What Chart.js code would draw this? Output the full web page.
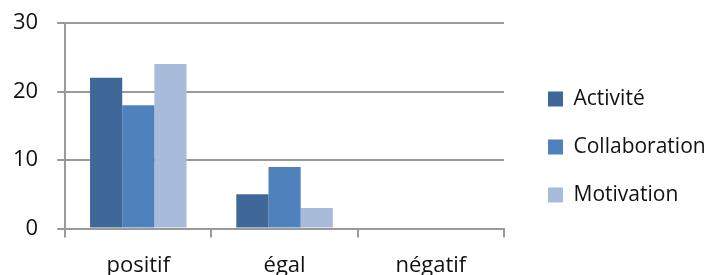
<!DOCTYPE html>
<html>
<head>
<meta charset="utf-8">
<script src="https://cdn.jsdelivr.net/npm/chart.js@4"></script>
<style>
    body { margin: 0; background: #fff; }
    #chart-box { width: 713px; height: 275px; position: relative; }
</style>
</head>
<body>
<div id="chart-box"><canvas id="myChart"></canvas></div>
<script>
const categories = ['positif', 'égal', 'négatif'];
const seriesNames = ['Activité', 'Collaboration', 'Motivation'];
const activite = [22, 5, 0];
const collaboration = [18, 9, 0];
const motivation = [24, 3, 0];
const yTicks = [0, 10, 20, 30];

const gridGray = '#9a9a9a';
const textColor = '#111111';

Chart.defaults.font.family = "'Open Sans', sans-serif";
Chart.defaults.font.size = 22;
Chart.defaults.color = textColor;

// move the legend a bit away from the plot (Excel leaves a wider gap)
const legendGap = {
    id: 'legendGap',
    afterLayout(chart) {
        chart.legend.left += 17;
        chart.legend.right = chart.width;
    }
};

let ctx = document.getElementById('myChart');

let myChart = new Chart(ctx, {
    type: 'bar',
    data: {
        labels: categories,
        datasets: [
            { label: seriesNames[0], data: activite, backgroundColor: '#3f6899' },
            { label: seriesNames[1], data: collaboration, backgroundColor: '#4f81bd' },
            { label: seriesNames[2], data: motivation, backgroundColor: '#a9bbdb' }
        ]
    },
    options: {
        responsive: true,
        maintainAspectRatio: false,
        animation: false,
        datasets: {
            bar: { categoryPercentage: 0.66, barPercentage: 1, borderWidth: 0 }
        },
        layout: { padding: { top: 0, left: -6, bottom: -19, right: 39 } },
        scales: {
            x: {
                grid: {
                    offset: true,
                    drawOnChartArea: false,
                    color: gridGray,
                    lineWidth: 2,
                    tickLength: 9
                },
                border: { color: gridGray, width: 2 },
                ticks: { padding: 15, color: textColor },
                afterFit: (axis) => { axis.paddingLeft = 0; axis.paddingRight = 0; }
            },
            y: {
                min: 0,
                max: 30,
                afterBuildTicks: (axis) => { axis.ticks = yTicks.map(v => ({ value: v })); },
                grid: { color: gridGray, lineWidth: 2, tickLength: 8 },
                border: { color: gridGray, width: 2 },
                ticks: { padding: 19, color: textColor },
                afterFit: (axis) => { axis.paddingTop = 23; axis.paddingBottom = 0; }
            }
        },
        plugins: {
            tooltip: { enabled: false },
            legend: {
                position: 'right',
                align: 'center',
                labels: {
                    boxWidth: 15,
                    boxHeight: 15,
                    padding: 27,
                    color: textColor,
                    font: { size: 21 }
                }
            }
        }
    },
    plugins: [legendGap]
});
</script>
</body>
</html>
